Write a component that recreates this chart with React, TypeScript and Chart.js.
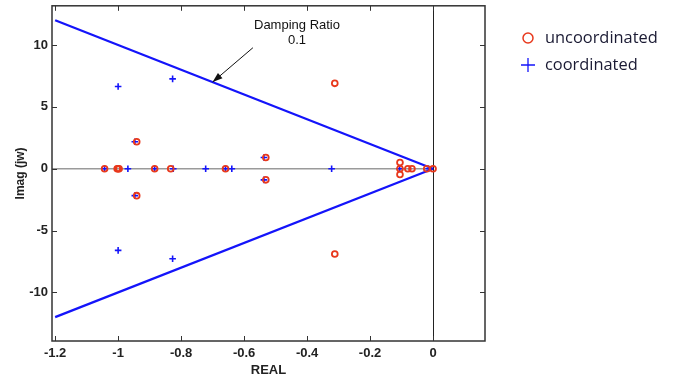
import React, { useEffect, useRef } from 'react';
import { Chart, registerables } from 'chart.js';

Chart.register(...registerables);

// ---- data ----
const uncoordReal = [-1.043, -1.003, -1.0, -0.997, -0.941, -0.941, -0.884, -0.833, -0.659, -0.531, -0.531, -0.312, -0.312, -0.105, -0.105, -0.105, -0.08, -0.067, -0.02, 0.0];
const uncoordImag = [0, 0, 0, 0, 2.18, -2.18, 0, 0, 0, 0.9, -0.9, 6.9, -6.9, 0.5, 0, -0.47, 0, 0, 0, 0];

const coordReal = [-1.0, -0.827, -1.0, -0.827, -1.043, -0.969, -0.884, -0.825, -0.722, -0.659, -0.639, -0.322, -0.106, -0.014, -0.947, -0.947, -0.537, -0.537];
const coordImag = [6.65, 7.26, -6.6, -7.28, 0, 0, 0, 0, 0, 0, 0, 0, 0, 0, 2.18, -2.18, 0.9, -0.9];

const dampUpperReal = [-1.2, 0];
const dampUpperImag = [12, 0];
const dampLowerReal = [-1.2, 0];
const dampLowerImag = [-12, 0];

const xTicks = [-1.2, -1, -0.8, -0.6, -0.4, -0.2, 0];
const xTickLabels = ['-1.2', '-1', '-0.8', '-0.6', '-0.4', '-0.2', '0'];
const yTicks = [-10, -5, 0, 5, 10];
const yTickLabels = ['-10', '-5', '0', '5', '10'];

const legendLabels = ['uncoordinated', 'coordinated'];
const annotationLines = ['Damping Ratio', '0.1'];
const annotationTextAt = [-0.432, 11.56, 10.35]; // x, y line1, y line2
const arrowTail = [-0.572, 9.78];
const arrowHead = [-0.7, 7.0];

const RED = 'rgb(232,56,28)';
const BLUE = 'rgb(20,20,250)';
const AXIS = '#333333';

const pts = (xs: number[], ys: number[]) => xs.map((x, i) => ({ x, y: ys[i] }));

const decorPlugin = {
  id: 'decor',
  beforeDatasetsDraw(chart: any) {
    const { ctx, chartArea, scales } = chart;
    const xs = scales.x, ys = scales.y;
    ctx.save();
    ctx.strokeStyle = '#9a9a9a';
    ctx.lineWidth = 1.5;
    ctx.beginPath();
    ctx.moveTo(chartArea.left, ys.getPixelForValue(0));
    ctx.lineTo(xs.getPixelForValue(0), ys.getPixelForValue(0));
    ctx.stroke();
    ctx.strokeStyle = '#222';
    ctx.lineWidth = 1;
    ctx.beginPath();
    const x0 = Math.round(xs.getPixelForValue(0)) + 0.5;
    ctx.moveTo(x0, chartArea.top);
    ctx.lineTo(x0, chartArea.bottom);
    ctx.stroke();
    ctx.restore();
  },
  afterDatasetsDraw(chart: any) {
    const { ctx, chartArea, scales } = chart;
    const xs = scales.x, ys = scales.y;
    const { left, right, top, bottom } = chartArea;
    ctx.save();
    ctx.strokeStyle = AXIS;
    ctx.lineWidth = 1.5;
    ctx.strokeRect(left, top, right - left, bottom - top);
    const tl = 5;
    ctx.lineWidth = 1;
    ctx.beginPath();
    xTicks.forEach((v) => {
      const px = Math.round(xs.getPixelForValue(v)) + 0.5;
      ctx.moveTo(px, bottom); ctx.lineTo(px, bottom - tl);
      ctx.moveTo(px, top); ctx.lineTo(px, top + tl);
    });
    yTicks.forEach((v) => {
      const py = Math.round(ys.getPixelForValue(v)) + 0.5;
      ctx.moveTo(left, py); ctx.lineTo(left + tl, py);
      ctx.moveTo(right, py); ctx.lineTo(right - tl, py);
    });
    ctx.stroke();

    // annotation
    ctx.fillStyle = '#111';
    ctx.font = '13px "Liberation Sans", Arial, sans-serif';
    ctx.textAlign = 'center';
    ctx.textBaseline = 'middle';
    const tx = xs.getPixelForValue(annotationTextAt[0]);
    ctx.fillText(annotationLines[0], tx, ys.getPixelForValue(annotationTextAt[1]));
    ctx.fillText(annotationLines[1], tx, ys.getPixelForValue(annotationTextAt[2]));
    const ax1 = xs.getPixelForValue(arrowTail[0]), ay1 = ys.getPixelForValue(arrowTail[1]);
    const ax2 = xs.getPixelForValue(arrowHead[0]), ay2 = ys.getPixelForValue(arrowHead[1]);
    ctx.strokeStyle = '#111';
    ctx.lineWidth = 1;
    ctx.beginPath();
    ctx.moveTo(ax1, ay1); ctx.lineTo(ax2, ay2);
    ctx.stroke();
    const ang = Math.atan2(ay2 - ay1, ax2 - ax1);
    const hl = 10, hw = 3.5;
    ctx.beginPath();
    ctx.moveTo(ax2, ay2);
    ctx.lineTo(ax2 - hl * Math.cos(ang) + hw * Math.sin(ang), ay2 - hl * Math.sin(ang) - hw * Math.cos(ang));
    ctx.lineTo(ax2 - hl * Math.cos(ang) - hw * Math.sin(ang), ay2 - hl * Math.sin(ang) + hw * Math.cos(ang));
    ctx.closePath();
    ctx.fillStyle = '#111';
    ctx.fill();

    // legend
    const lx = right + 43;
    const ly1 = 38, ly2 = 65;
    ctx.strokeStyle = RED;
    ctx.lineWidth = 1.5;
    ctx.beginPath();
    ctx.arc(lx, ly1, 5, 0, Math.PI * 2);
    ctx.stroke();
    ctx.strokeStyle = BLUE;
    ctx.lineWidth = 1.3;
    ctx.beginPath();
    ctx.moveTo(lx - 7, ly2); ctx.lineTo(lx + 7, ly2);
    ctx.moveTo(lx, ly2 - 7); ctx.lineTo(lx, ly2 + 7);
    ctx.stroke();
    ctx.fillStyle = '#1a1a33';
    ctx.font = '16.4px "Open Sans", sans-serif';
    ctx.textAlign = 'left';
    ctx.textBaseline = 'middle';
    ctx.fillText(legendLabels[0], lx + 17, ly1);
    ctx.fillText(legendLabels[1], lx + 17, ly2);
    ctx.restore();
  },
};

export default function App() {
  const ref = useRef<HTMLCanvasElement | null>(null);
  useEffect(() => {
    if (!ref.current) return;
    const tickFont = { family: '"Liberation Sans", Arial, sans-serif', size: 13, weight: 'bold' as const };
    const chart = new Chart(ref.current, {
      type: 'scatter',
      data: {
        datasets: [
          {
            label: legendLabels[0],
            data: pts(uncoordReal, uncoordImag),
            pointStyle: 'circle',
            pointRadius: 2.9,
            pointBorderWidth: 1.8,
            borderColor: RED,
            backgroundColor: 'rgba(0,0,0,0)',
            showLine: false,
            order: 0,
          },
          {
            label: legendLabels[1],
            data: pts(coordReal, coordImag),
            pointStyle: 'cross',
            pointRadius: 3.3,
            pointBorderWidth: 1.6,
            borderColor: BLUE,
            backgroundColor: BLUE,
            showLine: false,
            order: 1,
          },
          {
            label: 'damping upper',
            data: pts(dampUpperReal, dampUpperImag),
            showLine: true,
            borderColor: BLUE,
            borderWidth: 2.3,
            pointRadius: 0,
            order: 2,
          },
          {
            label: 'damping lower',
            data: pts(dampLowerReal, dampLowerImag),
            showLine: true,
            borderColor: BLUE,
            borderWidth: 2.3,
            pointRadius: 0,
            order: 2,
          },
        ],
      },
      options: {
        responsive: false,
        animation: false,
        devicePixelRatio: 1,
        layout: { padding: { top: 5, right: 191, left: 0, bottom: 0 } },
        plugins: { legend: { display: false }, tooltip: { enabled: false } },
        scales: {
          x: {
            type: 'linear',
            min: -1.21,
            max: 0.165,
            afterBuildTicks: (s: any) => { s.ticks = xTicks.map((v) => ({ value: v })); },
            afterFit: (s: any) => { s.height = 37; s.paddingLeft = 0; s.paddingRight = 0; },
            ticks: {
              callback: (_v: any, i: number) => xTickLabels[i],
              font: tickFont,
              color: '#222',
              padding: 5,
              maxRotation: 0,
              autoSkip: false,
            },
            grid: { display: false, drawTicks: false },
            border: { display: false },
            title: {
              display: true,
              text: 'REAL',
              font: tickFont,
              color: '#222',
              padding: { top: 4, bottom: 0 },
            },
          },
          y: {
            type: 'linear',
            min: -13.93,
            max: 13.17,
            afterBuildTicks: (s: any) => { s.ticks = yTicks.map((v) => ({ value: v })); },
            afterFit: (s: any) => { s.width = 52; s.paddingTop = 0; s.paddingBottom = 0; },
            ticks: {
              callback: (_v: any, i: number) => yTickLabels[i],
              font: tickFont,
              color: '#222',
              padding: 4,
              autoSkip: false,
            },
            grid: { display: false, drawTicks: false },
            border: { display: false },
            title: {
              display: true,
              text: 'Imag (jw)',
              font: { ...tickFont, size: 12 },
              color: '#222',
              padding: { top: 13, bottom: 0 },
            },
          },
        },
      },
      plugins: [decorPlugin],
    });
    return () => chart.destroy();
  }, []);
  return (
    <div style={{ position: 'fixed', left: 0, top: 0, width: 676, height: 378, background: '#fff' }}>
      <canvas ref={ref} width={676} height={378} style={{ width: 676, height: 378 }} />
    </div>
  );
}
